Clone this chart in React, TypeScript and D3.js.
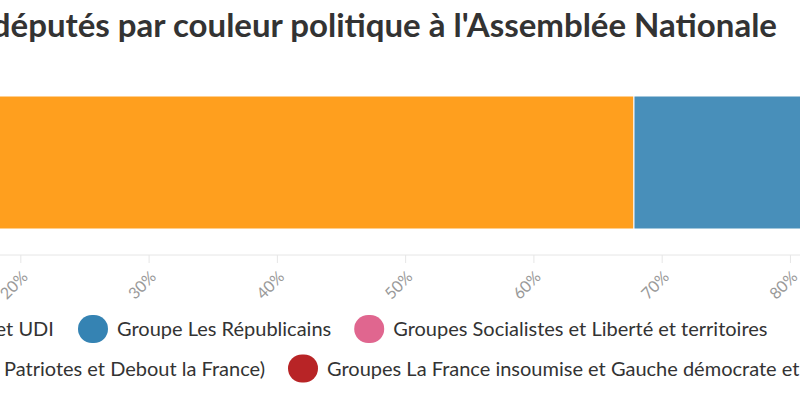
import React, { useMemo } from "react";
import * as d3 from "d3";

const title = "Répartition des députés par couleur politique à l'Assemblée Nationale";
const groups = [
  "Groupes La République en Marche, Mouvement Démocrate, Agir et UDI",
  "Groupe Les Républicains",
  "Groupes Socialistes et Liberté et territoires",
  "Non-inscrits (dont Rassemblement national, Les Patriotes et Debout la France)",
  "Groupes La France insoumise et Gauche démocrate et républicaine",
];
const shares = [67.8, 18.0, 7.9, 2.3, 4.0];
const colors = ["#ff9506", "#3583b3", "#e0668f", "#5b5b5b", "#b82426"];
const legendRowOf = [0, 0, 0, 1, 1];
const tickValues = [0, 10, 20, 30, 40, 50, 60, 70, 80, 90, 100];

const W = 800;
const H = 393;
const FONT = "Lato, 'Source Sans Pro', 'Noto Sans', sans-serif";
const legendFontSize = 20;

function measure(text: string, size: number, weight = "normal") {
  const c = document.createElement("canvas");
  const ctx = c.getContext("2d")!;
  ctx.font = `${weight} ${size}px Lato`;
  return ctx.measureText(text).width;
}

export default function App() {
  const x = d3.scaleLinear().domain([0, 100]).range([-235.7, 1047]);
  const barTop = 96;
  const barBottom = 229;
  const axisY = 255;

  const stacked = useMemo(() => {
    let acc = 0;
    return shares.map((v, i) => {
      const s = { i, x0: acc, x1: acc + v };
      acc += v;
      return s;
    });
  }, []);

  const markerW = 30;
  const markerH = 28;
  const gap = 9;
  const spacing = 23;
  const rowAnchors = [
    { item: 1, x: 78, cy: 329 },
    { item: 4, x: 288, cy: 368.5 },
  ];
  const legendItems: { i: number; x: number; cy: number }[] = [];
  rowAnchors.forEach((anchor, r) => {
    const items = groups.map((_, i) => i).filter((i) => legendRowOf[i] === r);
    const widths = items.map(
      (i) => markerW + gap + measure(groups[i], legendFontSize) + spacing
    );
    const k = items.indexOf(anchor.item);
    let start = anchor.x - d3.sum(widths.slice(0, k));
    items.forEach((i, j) => {
      legendItems.push({ i, x: start, cy: anchor.cy });
      start += widths[j];
    });
  });

  return (
    <div style={{ position: "fixed", left: 0, top: 0, width: W, height: H, overflow: "hidden", background: "#fff" }}>
      <svg width={W} height={H} style={{ display: "block", fontFamily: FONT }}>
        <text x={777} y={37} textAnchor="end" fontSize={33} fontWeight="bold" fill="#333">
          {title}
        </text>
        <g opacity={0.9}>
          {stacked.map((s) => (
            <rect
              key={s.i}
              x={x(s.x0)}
              y={barTop}
              width={x(s.x1) - x(s.x0)}
              height={barBottom - barTop}
              fill={colors[s.i]}
              stroke="#ffffff"
              strokeWidth={1}
            />
          ))}
        </g>
        <line x1={x(0)} x2={x(100)} y1={axisY} y2={axisY} stroke="#e6e6e6" strokeWidth={1} />
        {tickValues.map((t) => (
          <g key={t}>
            <line x1={x(t)} x2={x(t)} y1={axisY} y2={axisY + 8} stroke="#e6e6e6" strokeWidth={1} />
            <text
              transform={`translate(${x(t) + 8},${axisY + 23}) rotate(-45)`}
              textAnchor="end"
              fontSize={16}
              fill="#999"
            >
              {t}%
            </text>
          </g>
        ))}
        {legendItems.map((li) => (
          <g key={li.i}>
            <rect
              x={li.x}
              y={li.cy - markerH / 2}
              width={markerW}
              height={markerH}
              rx={14}
              ry={14}
              fill={colors[li.i]}
            />
            <text x={li.x + markerW + gap} y={li.cy + 7} fontSize={legendFontSize} fill="#333">
              {groups[li.i]}
            </text>
          </g>
        ))}
      </svg>
    </div>
  );
}
